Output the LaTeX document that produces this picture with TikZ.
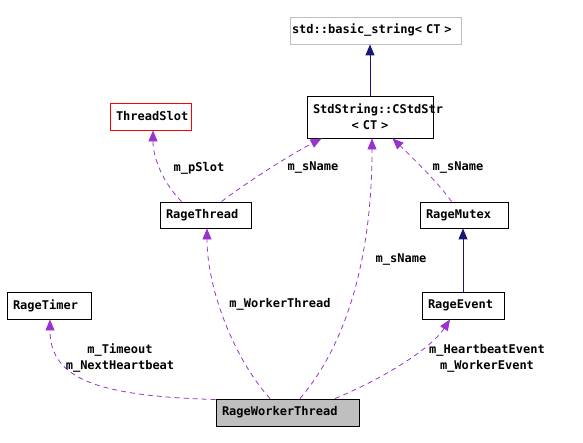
\documentclass[tikz,border=0pt]{standalone}
\usepackage{fontspec}
\newfontfamily\dxfont{DejaVu Sans Mono}[BoldFont={DejaVu Sans Mono Bold}]
\usetikzlibrary{arrows.meta}
\definecolor{edgepurple}{HTML}{9A32CD}
\definecolor{edgenavy}{HTML}{191970}
\definecolor{boxgray}{HTML}{BFBFBF}
\tikzset{
  cls/.style={draw=black, line width=0.9pt, inner xsep=6pt, inner ysep=0pt, align=left,
    font=\dxfont\bfseries\fontsize{12}{16}\selectfont, anchor=center},
  lbl/.style={font=\dxfont\bfseries\fontsize{12}{16}\selectfont, align=center, inner sep=0pt},
  inherit/.style={draw=edgenavy, line width=0.9pt, -{Triangle[length=11pt,width=9pt]}},
  usage/.style={draw=edgepurple, line width=0.8pt, dash pattern=on 5pt off 4pt,
    -{Triangle[length=11pt,width=9pt,fill=edgepurple]}},
}
\begin{document}
\begin{tikzpicture}[x=1pt,y=-1pt]
\useasboundingbox (0,0) rectangle (583,443);
% classes
\node[cls, draw=boxgray, inner xsep=2pt, text width=167pt, minimum height=27pt] (bs) at (375.5,30.5) {\mbox{std::basic\_string< CT >}};
\node[cls, text width=114pt, minimum height=42pt, align=center] (cs) at (370,117) {StdString::CStdStr\\< CT >};
\node[cls, draw=red, text width=69pt, minimum height=27pt] (ts) at (150.5,116.5) {ThreadSlot};
\node[cls, text width=79pt, minimum height=26pt] (rt) at (205.5,215) {RageThread};
\node[cls, text width=76pt, minimum height=26pt] (rm) at (464,215) {RageMutex};
\node[cls, text width=72pt, minimum height=27pt] (rtm) at (49,305.5) {RageTimer};
\node[cls, text width=70pt, minimum height=27pt] (re) at (463,305.5) {RageEvent};
\node[cls, fill=boxgray, text width=131pt, minimum height=27pt] (rwt) at (287.5,412.5) {RageWorkerThread};
% inheritance
\draw[inherit] (cs.north) -- (cs.north |- bs.south);
\draw[inherit] (re.north) -- (re.north |- rm.south);
% usage
\draw[usage] ([xshift=22pt]rt.north west) .. controls (165,185) and (153,160) .. ([xshift=2.5pt]ts.south);
\draw[usage] ([xshift=62pt]rt.north west) .. controls (250,180) and (290,155) .. ([xshift=15pt]cs.south west);
\draw[usage] ([xshift=32pt]rm.north west) .. controls (440,185) and (415,160) .. ([xshift=-41pt]cs.south east);
\draw[usage] ([xshift=12.5pt]rwt.north) .. controls (350,340) and (372,250) .. ([xshift=2pt]cs.south);
\draw[usage] ([xshift=-17.5pt]rwt.north) .. controls (235,360) and (207,290) .. ([xshift=1.5pt]rt.south);
\draw[usage] ([yshift=-1pt]rwt.north west) .. controls (100,396) and (50,380) .. ([xshift=1pt]rtm.south);
\draw[usage] ([xshift=47.5pt]rwt.north) .. controls (380,380) and (430,350) .. ([xshift=-13pt]re.south);
% labels
\node[lbl] (l1) at (199,168) {m\_pSlot};
\node[lbl] (l2) at (313,168) {m\_sName};
\node[lbl] (l3) at (458,168) {m\_sName};
\node[lbl] (l4) at (401,260) {m\_sName};
\node[lbl] (l5) at (280,304) {m\_WorkerThread};
\node[lbl] (l6) at (120,358) {m\_Timeout\\m\_NextHeartbeat};
\node[lbl] (l7) at (487,358) {m\_HeartbeatEvent\\m\_WorkerEvent};
\end{tikzpicture}
\end{document}
